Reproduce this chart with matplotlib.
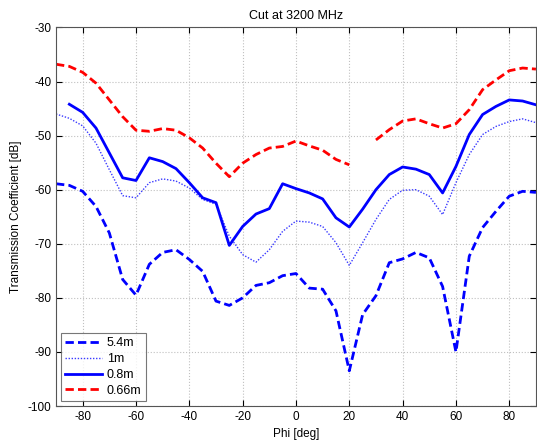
import numpy as np
import matplotlib
matplotlib.use("Agg")
import matplotlib.pyplot as plt

plt.rcParams['font.family'] = ['Liberation Sans', 'DejaVu Sans']
plt.rcParams['axes.unicode_minus'] = False

phi = list(range(-90, 91, 5))

s54 = [-58.9, -59.2, -60.3, -63.1, -68.0, -76.6, -79.5, -73.8, -71.6, -71.1,
       -72.9, -75.1, -80.6, -81.4, -80.0, -77.7, -77.2, -75.9, -75.5,
       -78.2, -78.4, -82.4, -93.5, -83.1, -79.6, -73.5, -72.8, -71.6, -72.6,
       -77.9, -90.0, -72.3, -67.0, -64.0, -61.2, -60.3, -60.5]

s1 = [-46.0, -46.8, -48.2, -51.4, -56.3, -61.1, -61.5, -58.7, -58.0, -58.4,
      -59.7, -61.8, -62.7, -68.6, -72.0, -73.4, -71.1, -67.7, -65.8,
      -66.0, -66.8, -69.8, -74.0, -69.8, -65.5, -61.8, -60.1, -60.0, -61.2,
      -64.6, -58.7, -53.5, -49.8, -48.3, -47.4, -46.9, -47.6]

s08 = [np.nan, -44.2, -45.7, -48.6, -53.2, -57.8, -58.3, -54.1, -54.8, -56.1,
       -58.7, -61.5, -62.4, -70.3, -66.8, -64.5, -63.5, -58.9, -59.8,
       -60.6, -61.7, -65.2, -66.9, -63.6, -60.0, -57.2, -55.8, -56.2, -57.2,
       -60.6, -55.7, -49.8, -46.1, -44.6, -43.4, -43.6, -44.3]

s066 = [-36.8, -37.2, -38.3, -40.3, -43.4, -46.5, -49.0, -49.2, -48.7, -49.0,
        -50.4, -52.3, -55.1, -57.6, -55.1, -53.5, -52.3, -52.0, -51.0,
        -51.9, -52.7, -54.4, -55.4, np.nan, -50.8, -48.9, -47.3, -46.9, -47.8,
        -48.6, -47.8, -45.2, -41.5, -39.7, -38.0, -37.5, -37.7]

labels = ['5.4m', '1m', '0.8m', '0.66m']

fig = plt.figure(figsize=(5.37, 4.43), dpi=100)
ax = fig.add_axes([0.1043, 0.0835, 0.8937, 0.8545])

ax.plot(phi, s54, color='#0000ff', linestyle=(0, (3, 1.5)), linewidth=2.0, label=labels[0])
ax.plot(phi, s1, color='#3a3aff', linestyle=(0, (1, 1.2)), linewidth=1.0, label=labels[1])
ax.plot(phi, s08, color='#0000ff', linestyle='-', linewidth=2.0, label=labels[2])
ax.plot(phi, s066, color='#ff0000', linestyle=(0, (3, 1.5)), linewidth=2.0, label=labels[3])

ax.set_xlim(-90, 90)
ax.set_ylim(-100, -30)
ax.set_xticks(range(-80, 81, 20))
ax.set_yticks(range(-100, -29, 10))
ax.grid(True, linestyle=':', color='#c0c0c0', linewidth=0.8)
ax.tick_params(direction='in', labelsize=8.5, length=4, colors='black',
               top=True, right=True)
for sp in ax.spines.values():
    sp.set_color('#555555')
    sp.set_linewidth(0.8)

ax.set_title('Cut at 3200 MHz', fontsize=9, pad=6)
ax.set_xlabel('Phi [deg]', fontsize=8.5, labelpad=4)
ax.set_ylabel('Transmission Coefficient [dB]', fontsize=8.5, labelpad=4)

leg = ax.legend(loc='lower left', fontsize=9, frameon=True, fancybox=False,
                edgecolor='#555555', handlelength=2.9, borderpad=0.35,
                labelspacing=0.3, borderaxespad=0.4, handletextpad=0.4)
leg.get_frame().set_linewidth(0.8)

fig.savefig('out.png', dpi=100)
